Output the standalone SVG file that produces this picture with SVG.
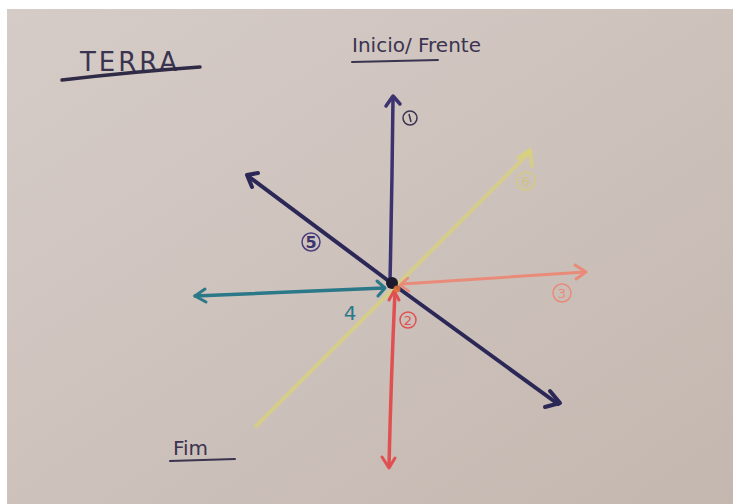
<svg xmlns="http://www.w3.org/2000/svg" width="740" height="504" viewBox="0 0 740 504">
<defs>
<linearGradient id="paper" x1="0" y1="0" x2="1" y2="1">
<stop offset="0" stop-color="#d6ccc7"/>
<stop offset="1" stop-color="#c4b7b0"/>
</linearGradient>
<style>
.ln{fill:none;stroke-linecap:round;stroke-linejoin:round}
.hand{font-family:"DejaVu Sans",sans-serif}
.lbl{fill:none;stroke-width:1.5}
</style>
</defs>
<rect width="740" height="504" fill="#ffffff"/>
<rect x="7" y="9" width="726" height="495" fill="url(#paper)"/>

<g id="titles">
<text class="hand" x="80" y="71" font-size="26" fill="#3b3450" letter-spacing="3" textLength="100">TERRA</text>
<path class="ln" d="M62 80 Q130 72 200 67" stroke="#2f2a45" stroke-width="3.5"/>
<text class="hand" x="352" y="52" font-size="20" fill="#3b3450">Inicio/ Frente</text>
<path class="ln" d="M352 62 L438 60" stroke="#3b3450" stroke-width="2"/>
<text class="hand" x="173" y="455" font-size="20" fill="#3b3450">Fim</text>
<path class="ln" d="M170 461 L235 459" stroke="#3b3450" stroke-width="2"/>
</g>

<g id="connectors">
<g id="line6">
<path class="ln" d="M256 426 L530 152" stroke="#dcd66a" stroke-width="4" opacity="0.6"/>
<path class="ln" d="M518 158 L530 150 L532 166" stroke="#dcd66a" stroke-width="4" opacity="0.6"/>
</g>
<g id="line1">
<path class="ln" d="M390 282 Q392 190 393 98" stroke="#3d3270" stroke-width="3.5"/>
<path class="ln" d="M386 106 L393 96 L400 104" stroke="#3d3270" stroke-width="3.5"/>
</g>
<g id="line5">
<path class="ln" d="M248 176 L390 282 L558 404" stroke="#2b2858" stroke-width="4"/>
<path class="ln" d="M258 173 L247 175 L252 187" stroke="#2b2858" stroke-width="4"/>
<path class="ln" d="M550 391 L560 403 L545 407" stroke="#2b2858" stroke-width="4"/>
</g>
<g id="line4">
<path class="ln" d="M384 288 L195 296" stroke="#2a7888" stroke-width="3.5"/>
<path class="ln" d="M205 289 L195 296 L206 302" stroke="#2a7888" stroke-width="3"/>
<path class="ln" d="M377 281 L385 288 L378 296" stroke="#2a7888" stroke-width="3"/>
</g>
<g id="line3">
<path class="ln" d="M402 284 L585 272" stroke="#e98b78" stroke-width="3"/>
<path class="ln" d="M575 265 L586 272 L576 279" stroke="#e98b78" stroke-width="3"/>
<path class="ln" d="M408 278 L400 285 L409 291" stroke="#e98b78" stroke-width="2.5"/>
</g>
<g id="line2">
<path class="ln" d="M395 291 Q391 380 389 466" stroke="#e05050" stroke-width="3.5"/>
<path class="ln" d="M382 457 L389 468 L395 458" stroke="#e05050" stroke-width="3"/>
<path class="ln" d="M389 300 L394 291 L399 300" stroke="#e05050" stroke-width="3"/>
</g>
<g id="center">
<circle cx="392" cy="283" r="6" fill="#1c1a2c"/>
<circle cx="397" cy="289" r="3.5" fill="#e0703c" opacity="0.9"/>
</g>
</g>

<g id="labels">
<g id="label1">
<circle class="lbl" cx="410" cy="118" r="7" stroke="#3b3450"/>
<path d="M409 114 L411 122" stroke="#3b3450" stroke-width="1.5" fill="none"/>
</g>
<g id="label5">
<circle class="lbl" cx="311" cy="242" r="9" stroke="#4a3d80" stroke-width="1.8"/>
<text class="hand" x="311" y="248" font-size="16" font-weight="bold" text-anchor="middle" fill="#3d3270">5</text>
</g>
<g id="label4">
<text class="hand" x="350" y="320" font-size="20" text-anchor="middle" fill="#2a7888">4</text>
</g>
<g id="label2">
<circle class="lbl" cx="408" cy="320" r="8" stroke="#e05050"/>
<text class="hand" x="408" y="325" font-size="13" text-anchor="middle" fill="#e05050">2</text>
</g>
<g id="label3">
<circle class="lbl" cx="562" cy="293" r="9" stroke="#e98b78"/>
<text class="hand" x="562" y="298" font-size="13" text-anchor="middle" fill="#e98b78">3</text>
</g>
<g id="label6" opacity="0.6">
<circle class="lbl" cx="526" cy="181" r="9" stroke="#d9d25a"/>
<text class="hand" x="526" y="186" font-size="13" text-anchor="middle" fill="#d0c84a">6</text>
</g>
</g>
</svg>
